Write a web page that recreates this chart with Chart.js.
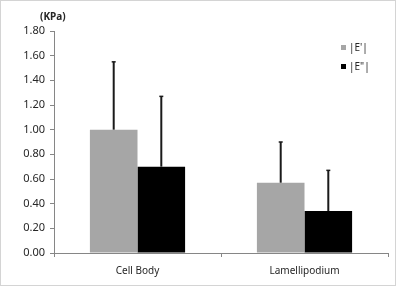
<!DOCTYPE html>
<html>
<head>
<meta charset="utf-8">
<script src="https://cdn.jsdelivr.net/npm/chart.js@4/dist/chart.umd.min.js"></script>
<style>
    html, body { margin: 0; padding: 0; background: #fff; }
    #frame {
        position: absolute; left: 0; top: 0;
        width: 396px; height: 286px;
        box-sizing: border-box;
        border: 1px solid #d4d4d4;
        font-family: "Noto Sans", sans-serif;
        color: #262626;
    }
    #chart { position: absolute; left: 0; top: 0; }
    #unit { position: absolute; left: 39px; top: 8px; font-size: 10px; font-weight: bold; }
    #legend { position: absolute; left: 340px; top: 39px; font-size: 10px; }
    .row { height: 19px; line-height: 14px; white-space: nowrap; }
    .swatch { display: inline-block; width: 5px; height: 5px; margin-right: 3px; vertical-align: 1px; }
</style>
</head>
<body>
<div id="frame">
    <canvas id="chart" width="394" height="284"></canvas>
    <div id="unit">(KPa)</div>
    <div id="legend"></div>
</div>
<script>
(function () {
    const categories = ["Cell Body", "Lamellipodium"];
    const seriesNames = ["|E'|", "|E\"|"];
    const storageValues = [1.00, 0.57];
    const lossValues = [0.70, 0.34];
    const storageErrors = [0.55, 0.33];
    const lossErrors = [0.57, 0.33];
    const tickValues = [0, 0.2, 0.4, 0.6, 0.8, 1.0, 1.2, 1.4, 1.6, 1.8];
    const colors = ["#a6a6a6", "#000000"];

    // upward-only error bars, drawn through the y scale
    const errorBars = {
        id: "errorBars",
        afterDatasetsDraw(chart) {
            const ctx = chart.ctx;
            const y = chart.scales.y;
            chart.data.datasets.forEach((ds, i) => {
                const meta = chart.getDatasetMeta(i);
                meta.data.forEach((bar, j) => {
                    const top = y.getPixelForValue(ds.data[j] + ds.errors[j]);
                    ctx.save();
                    ctx.strokeStyle = "#1a1a1a";
                    ctx.lineWidth = 2;
                    ctx.beginPath();
                    ctx.moveTo(bar.x, bar.y);
                    ctx.lineTo(bar.x, top);
                    ctx.stroke();
                    ctx.lineWidth = 1.5;
                    ctx.beginPath();
                    ctx.moveTo(bar.x - 2, top);
                    ctx.lineTo(bar.x + 2, top);
                    ctx.stroke();
                    ctx.restore();
                });
            });
        }
    };

    const chart = new Chart(document.getElementById("chart").getContext("2d"), {
        type: "bar",
        data: {
            labels: categories,
            datasets: [
                { label: seriesNames[0], data: storageValues, errors: storageErrors, backgroundColor: colors[0] },
                { label: seriesNames[1], data: lossValues, errors: lossErrors, backgroundColor: colors[1] },
            ]
        },
        options: {
            animation: false,
            responsive: false,
            layout: { padding: { top: 30, right: 7, left: 0, bottom: 0 } },
            datasets: { bar: { categoryPercentage: 0.57, barPercentage: 1.0 } },
            scales: {
                x: {
                    afterFit: (s) => { s.height = 32; },
                    border: { color: "#868686", width: 1 },
                    grid: { display: true, drawOnChartArea: false, tickLength: 4, color: "#868686", offset: true },
                    ticks: { color: "#262626", padding: 8, font: { family: "Noto Sans", size: 10 } }
                },
                y: {
                    min: 0,
                    max: 1.8,
                    afterFit: (s) => { s.width = 53; },
                    afterBuildTicks: (s) => { s.ticks = tickValues.map((v) => ({ value: v })); },
                    border: { color: "#868686", width: 1 },
                    grid: { display: true, drawOnChartArea: false, tickLength: 4, color: "#868686" },
                    ticks: {
                        color: "#262626",
                        padding: 5,
                        font: { family: "Noto Sans", size: 11 },
                        callback: (v) => Number(v).toFixed(2)
                    }
                }
            },
            plugins: {
                legend: { display: false },
                tooltip: { enabled: false }
            }
        },
        plugins: [errorBars]
    });

    const legend = document.getElementById("legend");
    chart.data.datasets.forEach((ds) => {
        const row = document.createElement("div");
        row.className = "row";
        const sw = document.createElement("span");
        sw.className = "swatch";
        sw.style.background = ds.backgroundColor;
        row.appendChild(sw);
        row.appendChild(document.createTextNode(ds.label));
        legend.appendChild(row);
    });
})();
</script>
</body>
</html>
